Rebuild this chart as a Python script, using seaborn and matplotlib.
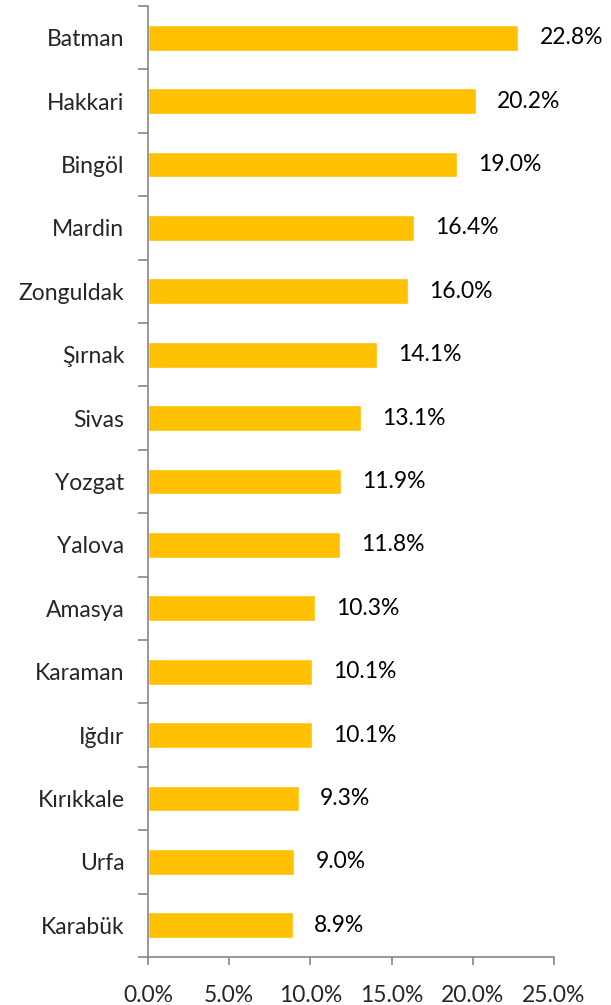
import matplotlib
matplotlib.use("Agg")
import matplotlib.pyplot as plt
import seaborn as sns
import numpy as np
import pandas as pd
from matplotlib.ticker import FixedLocator, FuncFormatter

provinces = ["Batman", "Hakkari", "Bingöl", "Mardin", "Zonguldak", "Şırnak", "Sivas",
             "Yozgat", "Yalova", "Amasya", "Karaman", "Iğdır", "Kırıkkale", "Urfa", "Karabük"]
values = [22.8, 20.2, 19.0, 16.4, 16.0, 14.1, 13.1, 11.9, 11.8, 10.3, 10.1, 10.1, 9.3, 9.0, 8.9]
x_ticks = [0, 5, 10, 15, 20, 25]

sns.set_style("white")
plt.rcParams['font.family'] = ['Lato', 'DejaVu Sans']

df = pd.DataFrame({"province": provinces, "value": values})

fig = plt.figure(figsize=(6.11, 10.05), dpi=100)
ax = fig.add_axes([148/611, 1 - 957/1005, (554 - 148)/611, (957 - 6)/1005])

sns.barplot(data=df, x="value", y="province", orient="h", color="#FFC000",
            saturation=1, width=0.41, ax=ax)

ax.set_xlim(0, 25)
ax.set_ylim(len(provinces) - 0.5, -0.5)
ax.set_xlabel("")
ax.set_ylabel("")

FS = 16.5
ax.set_xticks(x_ticks)
ax.xaxis.set_major_formatter(FuncFormatter(lambda v, p: f"{v:.1f}%"))
ax.tick_params(axis="x", direction="out", length=6, width=1.2, color="#868686",
               labelsize=FS, pad=14, bottom=True)
ax.tick_params(axis="y", length=0, labelsize=FS, pad=17)
ax.yaxis.set_minor_locator(FixedLocator(np.arange(-0.5, len(provinces), 1)))
ax.tick_params(axis="y", which="minor", direction="out", length=7, width=1.2,
               color="#868686", left=True)

for s in ["top", "right"]:
    ax.spines[s].set_visible(False)
for s in ["left", "bottom"]:
    ax.spines[s].set_color("#868686")
    ax.spines[s].set_linewidth(1.2)

for i, v in enumerate(values):
    ax.text(v + 1.3, i, f"{v:.1f}%", va="center", ha="left", fontsize=FS, color="black")

fig.savefig("out.png", dpi=100)
